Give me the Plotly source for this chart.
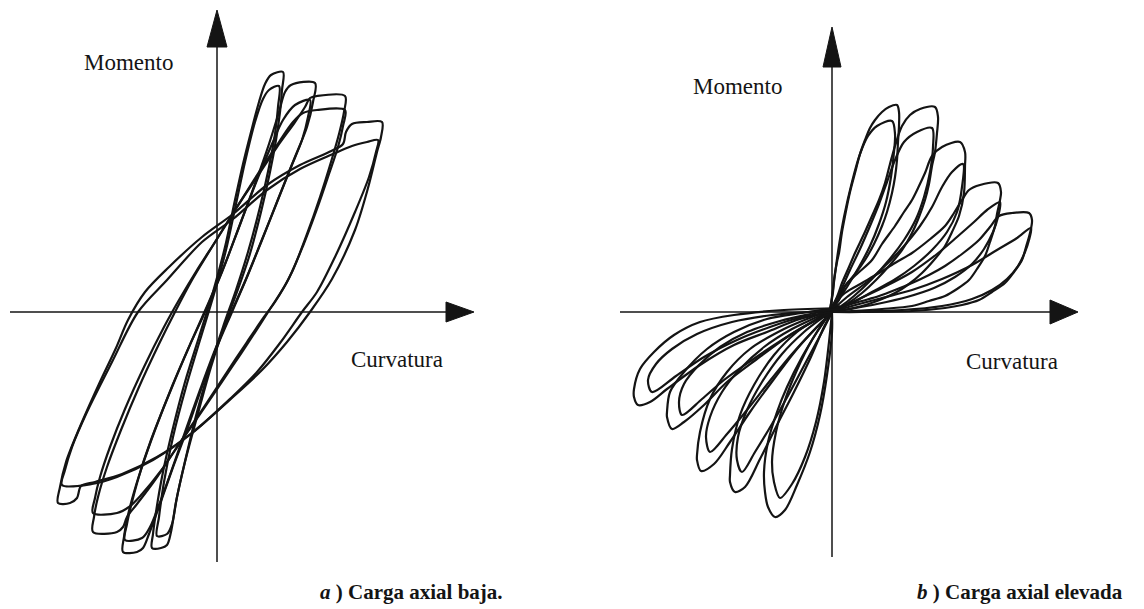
import plotly.graph_objects as go

INK = "#141414"
SERIF = "Liberation Serif, Times New Roman, serif"

# ---------------------------------------------------------------
# (a) Low axial load: moment-curvature loops, two cycles per level
# points are (curvature, moment) in arbitrary units, origin at 0,0
# ---------------------------------------------------------------
a_lvl1_c1 = [(66, 240), (65, 222), (63, 200), (59, 172), (53, 140), (44, 100), (32, 55), (20, 20),
             (7, -15), (-6, -55), (-20, -105), (-32, -150), (-41, -190), (-46, -220), (-50, -233),
             (-56, -236), (-65, -236), (-64, -222), (-61, -200), (-55, -165), (-45, -120),
             (-32, -70), (-18, -25), (-4, 20), (8, 65), (18, 112), (26, 148), (34, 180),
             (42, 210), (48, 228), (54, 237), (66, 240)]
a_lvl1_c2 = [(62, 226), (61, 205), (58, 178), (52, 145), (43, 105), (31, 60), (19, 22), (6, -15),
             (-7, -55), (-20, -100), (-31, -145), (-40, -185), (-45, -212), (-50, -222),
             (-60, -224), (-58, -205), (-53, -170), (-44, -125), (-31, -75), (-17, -28),
             (-3, 18), (9, 62), (19, 108), (28, 150), (38, 190), (46, 213), (52, 222), (62, 226)]
a_lvl2_c1 = [(98, 229), (96, 210), (90, 185), (78, 155), (62, 115), (45, 72), (30, 35), (15, 0),
             (0, -35), (-15, -75), (-30, -118), (-45, -158), (-58, -195), (-68, -222),
             (-74, -236), (-80, -240), (-94, -240), (-93, -225), (-89, -203), (-80, -170),
             (-66, -128), (-47, -80), (-28, -35), (-12, 0), (5, 40), (22, 85), (38, 128),
             (52, 168), (62, 200), (68, 220), (74, 227), (98, 229)]
a_lvl2_c2 = [(93, 212), (91, 195), (85, 172), (74, 145), (60, 110), (44, 70), (29, 33), (13, -3),
             (-2, -38), (-17, -78), (-32, -120), (-46, -160), (-58, -193), (-67, -215),
             (-75, -226), (-92, -228), (-90, -212), (-85, -190), (-76, -158), (-62, -118),
             (-44, -72), (-25, -28), (-9, 8), (8, 48), (24, 90), (40, 132), (55, 168),
             (66, 192), (78, 207), (93, 212)]
a_lvl3_c1 = [(128, 216), (127, 200), (122, 178), (114, 150), (103, 115), (90, 78), (75, 40),
             (58, 10), (47, -5), (30, -30), (10, -60), (-15, -98), (-40, -135), (-62, -168),
             (-80, -192), (-90, -205), (-94, -215), (-100, -220), (-124, -220), (-123, -205),
             (-119, -185), (-110, -155), (-96, -118), (-78, -75), (-58, -32), (-42, 0),
             (-25, 32), (-5, 65), (18, 102), (40, 135), (60, 165), (78, 190), (88, 205),
             (93, 214), (100, 216), (128, 216)]
a_lvl3_c2 = [(128, 202), (126, 186), (121, 165), (112, 138), (100, 103), (86, 66), (70, 30),
             (53, 3), (35, -25), (15, -55), (-10, -92), (-35, -128), (-57, -160), (-75, -182),
             (-88, -195), (-100, -201), (-124, -201), (-122, -186), (-117, -165), (-107, -135),
             (-92, -97), (-73, -55), (-53, -15), (-38, 12), (-20, 42), (0, 73), (20, 105),
             (42, 140), (62, 170), (76, 190), (86, 199), (100, 202), (128, 202)]
a_lvl4_c1 = [(165, 190), (164, 175), (160, 160), (151, 124), (138, 82), (115, 33), (93, 0),
             (70, -30), (45, -58), (16, -85), (-24, -120), (-60, -145), (-95, -162),
             (-122, -170), (-136, -174), (-140, -186), (-147, -191), (-159, -191),
             (-157, -175), (-151, -150), (-138, -117), (-118, -72), (-101, -36), (-89, -8),
             (-72, 20), (-48, 45), (-15, 75), (16, 98), (50, 127), (83, 147), (112, 160),
             (126, 168), (129, 180), (135, 188), (150, 190), (165, 190)]
a_lvl4_c2 = [(161, 172), (159, 160), (152, 135), (138, 100), (118, 55), (100, 20), (85, 0),
             (63, -31), (40, -60), (14, -86), (-26, -122), (-64, -148), (-100, -165),
             (-125, -172), (-155, -173), (-152, -158), (-145, -135), (-130, -100),
             (-105, -50), (-79, 0), (-50, 32), (-15, 70), (16, 93), (50, 122), (83, 143),
             (116, 158), (135, 166), (150, 170), (161, 172)]

# ---------------------------------------------------------------
# (b) High axial load: pinched loops, positive and negative lobes
# each lobe starts on the loading branch and ends on the unloading tail
# ---------------------------------------------------------------
b_pos1 = [(-4, -8), (1, 20), (2, 32), (5, 50), (7, 59), (10, 80), (13, 96), (18, 120), (23, 139),
          (28, 158), (33, 172), (38, 184), (43, 192), (50, 200), (57, 205), (65, 207),
          (67, 200), (67, 186), (66, 170), (65, 152), (63, 135), (60, 119), (55, 100),
          (50, 86), (42, 68), (33, 52), (23, 38), (13, 26), (5, 12), (0, 0)]
b_pos2 = [(-6, -7), (5, 15), (10, 29), (17, 45), (23, 59), (32, 78), (40, 96), (47, 112),
          (53, 129), (58, 148), (63, 166), (70, 186), (78, 197), (88, 203), (103, 205),
          (106, 195), (105, 179), (103, 160), (100, 146), (97, 128), (93, 112), (87, 95),
          (80, 79), (70, 62), (57, 46), (45, 33), (30, 19), (15, 8), (0, 0)]
b_pos3 = [(-8, -6), (7, 12), (13, 26), (25, 38), (40, 52), (50, 68), (63, 86), (72, 100),
          (80, 112), (87, 126), (93, 139), (100, 156), (110, 165), (128, 170), (133, 160),
          (133, 146), (132, 119), (127, 96), (120, 80), (113, 66), (102, 52), (90, 39),
          (77, 28), (63, 19), (45, 11), (30, 6), (12, 2), (0, 0)]
b_pos4 = [(-10, -5), (13, 19), (30, 29), (47, 39), (63, 49), (80, 59), (97, 72), (113, 86),
          (122, 99), (130, 112), (137, 122), (148, 127), (166, 129), (169, 120), (168, 112),
          (165, 98), (163, 86), (158, 70), (153, 56), (145, 43), (137, 32), (125, 23),
          (113, 16), (97, 11), (80, 6), (50, 3), (20, 1), (0, 0)]
b_pos5 = [(-12, -4), (13, 6), (30, 11), (47, 16), (63, 22), (80, 29), (97, 37), (113, 46),
          (130, 58), (147, 72), (158, 85), (167, 96), (180, 99), (197, 99), (200, 92),
          (198, 79), (194, 65), (190, 52), (182, 40), (173, 29), (160, 20), (147, 12),
          (130, 7), (113, 4), (80, 1), (30, 0), (0, 0)]
b_pos1_c2 = [(-3, -6), (2, 30), (6, 60), (12, 95), (20, 130), (28, 158), (36, 176), (45, 186),
             (60, 191), (63, 178), (62, 160), (59, 135), (54, 110), (47, 88), (38, 66),
             (27, 45), (15, 25), (5, 10), (0, 0)]
b_pos2_c2 = [(-5, -5), (8, 20), (18, 42), (28, 63), (38, 86), (47, 108), (55, 130), (63, 152),
             (72, 170), (85, 180), (100, 184), (101, 165), (98, 140), (92, 115), (84, 93),
             (72, 72), (57, 52), (40, 33), (22, 16), (8, 5), (0, 0)]
b_pos3_c2 = [(-7, -5), (15, 15), (35, 30), (55, 48), (72, 66), (88, 86), (100, 105), (110, 125),
             (120, 140), (131, 148), (130, 125), (125, 100), (115, 80), (100, 62), (82, 46),
             (62, 32), (40, 20), (20, 9), (0, 0)]
b_pos4_c2 = [(-9, -4), (25, 12), (50, 24), (80, 40), (105, 58), (125, 75), (142, 90), (155, 102),
             (168, 110), (166, 95), (161, 80), (152, 63), (140, 48), (123, 35), (102, 24),
             (75, 15), (45, 8), (18, 3), (0, 0)]
b_pos5_c2 = [(-10, -3), (20, 6), (50, 14), (80, 22), (110, 33), (140, 47), (165, 62), (185, 74),
             (199, 84), (197, 72), (193, 60), (186, 46), (175, 33), (160, 22), (140, 13),
             (110, 6), (70, 2), (0, 0)]

b_neg1 = [(0, 0), (0, -20), (-5, -63), (-12, -103), (-22, -140), (-35, -173), (-47, -198),
          (-57, -205), (-64, -195), (-67, -180), (-68, -160), (-64, -130), (-55, -100),
          (-45, -75), (-30, -45), (-15, -20), (-5, -5), (4, 8)]
b_neg2 = [(0, 0), (-8, -15), (-22, -47), (-38, -80), (-55, -113), (-72, -147), (-87, -175),
          (-97, -180), (-102, -170), (-102, -163), (-100, -137), (-92, -103), (-78, -73),
          (-58, -43), (-35, -20), (-15, -7), (6, 7)]
b_neg3 = [(0, 0), (-15, -15), (-35, -37), (-58, -67), (-82, -100), (-102, -130), (-118, -152),
          (-131, -159), (-135, -148), (-135, -143), (-132, -120), (-122, -87), (-105, -60),
          (-82, -37), (-48, -17), (-20, -5), (8, 6)]
b_neg4 = [(0, 0), (-20, -10), (-42, -23), (-75, -47), (-105, -70), (-128, -93), (-148, -110),
          (-160, -117), (-165, -105), (-165, -100), (-162, -80), (-148, -60), (-125, -37),
          (-98, -20), (-65, -7), (-30, -1), (10, 5)]
b_neg5 = [(0, 0), (-32, -7), (-65, -20), (-98, -33), (-132, -53), (-165, -77), (-182, -90),
          (-194, -93), (-198, -85), (-198, -77), (-192, -57), (-178, -40), (-158, -23),
          (-132, -10), (-98, -3), (-48, 2), (12, 4)]
b_neg1_c2 = [(0, 0), (-3, -30), (-8, -70), (-16, -110), (-27, -145), (-40, -172), (-52, -186),
             (-58, -170), (-60, -150), (-56, -120), (-47, -88), (-35, -58), (-20, -28),
             (-7, -8), (3, 6)]
b_neg2_c2 = [(0, 0), (-10, -20), (-25, -48), (-42, -80), (-60, -112), (-77, -140), (-90, -160),
             (-95, -148), (-94, -125), (-85, -98), (-70, -70), (-50, -42), (-28, -20),
             (-10, -6), (5, 5)]
b_neg3_c2 = [(0, 0), (-18, -18), (-40, -42), (-63, -70), (-85, -98), (-105, -122), (-122, -140),
             (-126, -125), (-122, -105), (-110, -80), (-92, -57), (-68, -35), (-40, -17),
             (-15, -5), (7, 5)]
b_neg4_c2 = [(0, 0), (-25, -13), (-50, -28), (-80, -48), (-108, -68), (-130, -87), (-150, -103),
             (-153, -90), (-148, -72), (-133, -53), (-112, -35), (-85, -20), (-52, -9),
             (-22, -2), (9, 4)]
b_neg5_c2 = [(0, 0), (-30, -5), (-62, -15), (-95, -28), (-128, -45), (-156, -64), (-180, -80),
             (-184, -68), (-176, -52), (-160, -37), (-135, -22), (-100, -10), (-60, -3),
             (-25, 0), (10, 3)]

loops_a = [a_lvl1_c1, a_lvl1_c2, a_lvl2_c1, a_lvl2_c2, a_lvl3_c1, a_lvl3_c2, a_lvl4_c1, a_lvl4_c2]
loops_b = [b_pos1, b_pos2, b_pos3, b_pos4, b_pos5, b_pos1_c2, b_pos2_c2, b_pos3_c2, b_pos4_c2,
           b_pos5_c2, b_neg1, b_neg2, b_neg3, b_neg4, b_neg5, b_neg1_c2, b_neg2_c2, b_neg3_c2,
           b_neg4_c2, b_neg5_c2]

# axis extents (curvature axis: left end, arrow base, arrow tip; moment axis: bottom, base, tip)
axis_a_phi = [-207, 229, 257]
axis_a_m = [-250, 265, 302]
axis_b_phi = [-212, 218, 246]
axis_b_m = [-245, 245, 285]
arrow_half = {"a_phi": 10, "a_m": 10, "b_phi": 12, "b_m": 9}

fig = go.Figure()


def add_curve(pts, xa, ya):
    fig.add_trace(go.Scatter(
        x=[p[0] for p in pts], y=[p[1] for p in pts], mode="lines",
        line=dict(color=INK, width=2.2, shape="spline", smoothing=0.9),
        xaxis=xa, yaxis=ya, hoverinfo="skip", showlegend=False))


def add_axes(phi_ext, m_ext, half_phi, half_m, xa, ya):
    # curvature axis and its arrowhead
    fig.add_trace(go.Scatter(x=[phi_ext[0], phi_ext[1]], y=[0, 0], mode="lines",
                             line=dict(color=INK, width=1.5), xaxis=xa, yaxis=ya,
                             hoverinfo="skip", showlegend=False))
    fig.add_trace(go.Scatter(x=[phi_ext[1], phi_ext[2], phi_ext[1], phi_ext[1]],
                             y=[half_phi, 0, -half_phi, half_phi], mode="lines",
                             fill="toself", fillcolor=INK, line=dict(color=INK, width=1),
                             xaxis=xa, yaxis=ya, hoverinfo="skip", showlegend=False))
    # moment axis and its arrowhead
    fig.add_trace(go.Scatter(x=[0, 0], y=[m_ext[0], m_ext[1]], mode="lines",
                             line=dict(color=INK, width=1.5), xaxis=xa, yaxis=ya,
                             hoverinfo="skip", showlegend=False))
    fig.add_trace(go.Scatter(x=[-half_m, 0, half_m, -half_m],
                             y=[m_ext[1], m_ext[2], m_ext[1], m_ext[1]], mode="lines",
                             fill="toself", fillcolor=INK, line=dict(color=INK, width=1),
                             xaxis=xa, yaxis=ya, hoverinfo="skip", showlegend=False))


add_axes(axis_a_phi, axis_a_m, arrow_half["a_phi"], arrow_half["a_m"], "x", "y")
add_axes(axis_b_phi, axis_b_m, arrow_half["b_phi"], arrow_half["b_m"], "x2", "y2")
for loop in loops_a:
    add_curve(loop, "x", "y")
for loop in loops_b:
    add_curve(loop, "x2", "y2")

W, H = 1144, 609
split = 560
hidden = dict(visible=False, showgrid=False, zeroline=False, fixedrange=True)
fig.update_layout(
    width=W, height=H, margin=dict(l=0, r=0, t=0, b=0),
    paper_bgcolor="white", plot_bgcolor="white",
    xaxis=dict(domain=[0, split / W], range=[-217, split - 217], **hidden),
    yaxis=dict(domain=[0, 1], range=[312 - H, 312], **hidden),
    xaxis2=dict(domain=[split / W, 1], range=[split - 832, W - 832], anchor="y2", **hidden),
    yaxis2=dict(domain=[0, 1], range=[312 - H, 312], anchor="x2", **hidden),
)

label_font = dict(family=SERIF, size=23, color=INK)
caption_font = dict(family=SERIF, size=21, color=INK)
labels = [
    ("Momento", -89, 250, "x", "y", label_font),
    ("Curvatura", 180, -47, "x", "y", label_font),
    ("Momento", -95, 226, "x2", "y2", label_font),
    ("Curvatura", 180, -49, "x2", "y2", label_font),
    ("<b><i>a</i> ) Carga axial baja.</b>", 194, -280, "x", "y", caption_font),
    ("<b><i>b</i> ) Carga axial elevada</b>", 188, -280, "x2", "y2", caption_font),
]
for text, lx, ly, xr, yr, fnt in labels:
    fig.add_annotation(text=text, x=lx, y=ly, xref=xr, yref=yr, showarrow=False,
                       xanchor="center", yanchor="middle", font=fnt)

fig.write_html("out.html")
